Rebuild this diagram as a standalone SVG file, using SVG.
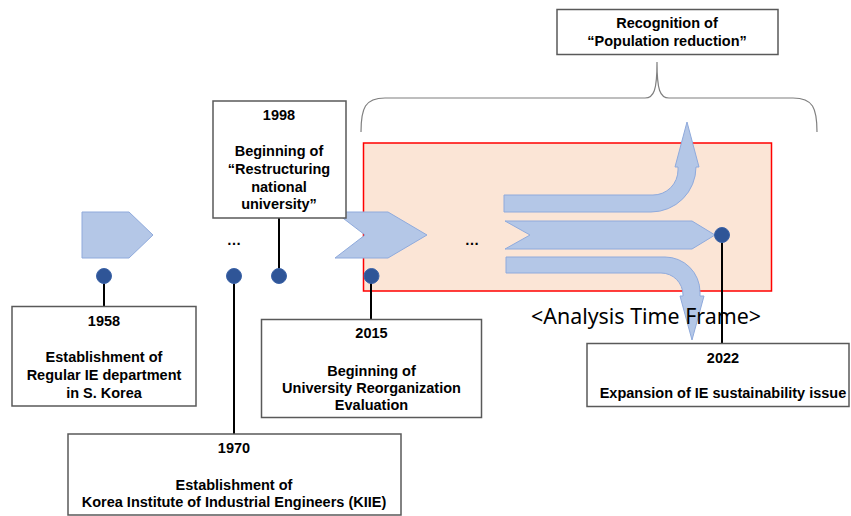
<svg xmlns="http://www.w3.org/2000/svg" width="851" height="516" viewBox="0 0 851 516">
<style>
.box{fill:#fff;stroke:#595959;stroke-width:1.5}
.t{font-family:"Liberation Sans",Arial,sans-serif;font-weight:bold;font-size:14.5px;fill:#000;text-anchor:middle}
.arr{fill:#B4C7E7;stroke:#8FAADC;stroke-width:1}
.dot{fill:#2F5597;stroke:#3B63A8;stroke-width:1}
.ln{stroke:#000;stroke-width:2;fill:none}
</style>
<rect width="851" height="516" fill="#fff"/>
<g id="frame">
<rect x="363.5" y="143" width="408" height="148" fill="#FBE5D6" stroke="#FF0000" stroke-width="1.5"/>
<path d="M361 132 C361 108 365 98 385 98 L645 98 C654 98 657 90 657 62 C657 90 660 98 669 98 L793 98 C813 98 817 108 817 132" fill="none" stroke="#7F7F7F" stroke-width="1.2"/>
</g>
<g id="connectors">
<line class="ln" x1="104" y1="276" x2="104" y2="306"/>
<line class="ln" x1="234" y1="276" x2="234" y2="434"/>
<line class="ln" x1="279" y1="218" x2="279" y2="276"/>
<line class="ln" x1="371" y1="276" x2="371" y2="319"/>
</g>
<g id="arrows">
<polygon class="arr" points="82,212 129,212 153,235 129,258 82,258"/>
<polygon class="arr" points="335,212 388,212 427,235 388,258 335,258 365,235"/>
<path class="arr" d="M504 195 L653 195 A25 25 0 0 0 678 170 L678 167 L675 167 L687 122 L699 167 L696 167 A45 45 0 0 1 651 212 L504 212 Z"/>
<polygon class="arr" points="505,221 692,221 715,235 692,249 505,249 530,235"/>
<path class="arr" d="M506 257 L665 257 A35 35 0 0 1 700 292 L700 296 L704 296 L692 340 L680 296 L683 296 L683 295 A22 22 0 0 0 661 273 L506 273 Z"/>
<text x="234" y="245" class="t" font-weight="normal">…</text>
<text x="472" y="245" class="t" font-weight="normal">…</text>
</g>
<g id="label-frame">
<text x="646" y="324" font-family="'Noto Sans','Liberation Sans',sans-serif" font-size="21" fill="#000" text-anchor="middle" textLength="230" lengthAdjust="spacingAndGlyphs">&lt;Analysis Time Frame&gt;</text>
</g>
<g id="connector-2022">
<line class="ln" x1="722" y1="235" x2="722" y2="344"/>
</g>
<g id="node-recognition">
<rect class="box" x="557" y="9.5" width="221" height="45"/>
<text class="t" x="667" y="28">Recognition of</text>
<text class="t" x="667" y="46">“Population reduction”</text>
</g>
<g id="node-1998">
<rect class="box" x="213" y="101" width="133" height="117"/>
<text class="t" x="279" y="120">1998</text>
<text class="t" x="279" y="156">Beginning of</text>
<text class="t" x="279" y="174">“Restructuring</text>
<text class="t" x="279" y="191.5">national</text>
<text class="t" x="279" y="209">university”</text>
</g>
<g id="node-1958">
<rect class="box" x="12" y="306.5" width="184" height="99.5"/>
<text class="t" x="104" y="326">1958</text>
<text class="t" x="104" y="362">Establishment of</text>
<text class="t" x="104" y="380">Regular IE department</text>
<text class="t" x="104" y="397.5">in S. Korea</text>
</g>
<g id="node-1970">
<rect class="box" x="68" y="434" width="333" height="81"/>
<text class="t" x="234" y="453">1970</text>
<text class="t" x="234" y="490">Establishment of</text>
<text class="t" x="234" y="507">Korea Institute of Industrial Engineers (KIIE)</text>
</g>
<g id="node-2015">
<rect class="box" x="261.5" y="319.5" width="220" height="98"/>
<text class="t" x="371.5" y="338">2015</text>
<text class="t" x="371.5" y="376">Beginning of</text>
<text class="t" x="371.5" y="393">University Reorganization</text>
<text class="t" x="371.5" y="410">Evaluation</text>
</g>
<g id="node-2022">
<rect class="box" x="587" y="343.5" width="262" height="63"/>
<text class="t" x="723" y="363">2022</text>
<text class="t" x="723" y="398">Expansion of IE sustainability issue</text>
</g>
<g id="dots">
<circle class="dot" cx="104" cy="276" r="7.5"/>
<circle class="dot" cx="234" cy="276" r="7.5"/>
<circle class="dot" cx="279" cy="276" r="7.5"/>
<circle class="dot" cx="371.5" cy="276" r="7.5"/>
<circle class="dot" cx="722" cy="235" r="7.5"/>
</g>
</svg>
